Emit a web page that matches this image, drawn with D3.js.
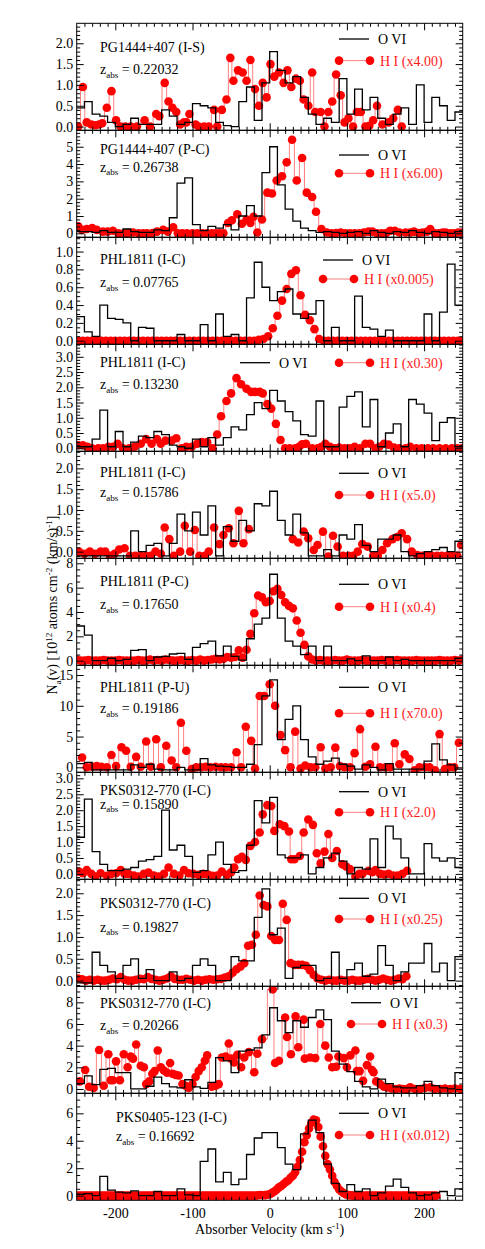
<!DOCTYPE html>
<html lang="en">
<head>
<meta charset="utf-8">
<title>O VI / H I apparent column density profiles</title>
<script src="https://d3js.org/d3.v7.min.js"></script>
<style>
  body { margin: 0; background: #fff; }
  svg text { font-family: "Liberation Serif", "DejaVu Serif", serif; fill: #000; }
  .tick text { font-size: 14px; }
  .tick line { stroke: #000; stroke-width: 1; }
  .frame { fill: none; stroke: #000; stroke-width: 1; }
  .ovi-line { fill: none; stroke: #000; stroke-width: 1.3; }
  .hi-line { fill: none; stroke: #ff7f7f; stroke-width: 1; }
  .hi-dot { fill: #ff0000; }
  .panel-label { font-size: 14px; }
  .legend-text { font-size: 14px; }
  text.legend-hi { fill: #ff1a1a; }
  .axis-title { font-size: 14px; }
</style>
</head>
<body>
<script>
// ---------- data ----------
const panelNames = ["PG1444+407 (I-S)", "PG1444+407 (P-C)", "PHL1811 (I-C)", "PHL1811 (I-C)",
  "PHL1811 (I-C)", "PHL1811 (P-C)", "PHL1811 (P-U)", "PKS0312-770 (I-C)", "PKS0312-770 (I-C)",
  "PKS0312-770 (I-C)", "PKS0405-123 (I-C)"];
const panelZ = ["0.22032", "0.26738", "0.07765", "0.13230", "0.15786", "0.17650", "0.19186",
  "0.15890", "0.19827", "0.20266", "0.16692"];
const hiScale = ["x4.00", "x6.00", "x0.005", "x0.30", "x5.0", "x0.4", "x70.0", "x2.0", "x0.25", "x0.3", "x0.012"];

// y ranges and ticks of each panel
const yMin = [-0.09, -0.23, -0.04, -0.1, -0.16, -0.38, -0.81, -0.17, -0.13, -0.4, -0.34];
const yMax = [2.48, 5.95, 1.16, 3.41, 2.41, 8.41, 16.58, 3.19, 2.32, 9.48, 7.46];
const yTicks = [
  [0, 0.5, 1, 1.5, 2], [0, 1, 2, 3, 4, 5], [0, 0.2, 0.4, 0.6, 0.8, 1.0], [0, 0.5, 1, 1.5, 2, 2.5, 3],
  [0, 0.5, 1, 1.5, 2], [0, 2, 4, 6, 8], [0, 5, 10, 15], [0, 0.5, 1, 1.5, 2, 2.5, 3],
  [0, 0.5, 1, 1.5, 2], [0, 2, 4, 6, 8], [0, 2, 4, 6]];
const yMinorStep = [0.1, 0.2, 0.05, 0.1, 0.1, 0.5, 1, 0.1, 0.1, 0.5, 0.5];
const yDigits = [1, 0, 1, 1, 1, 0, 0, 1, 1, 0, 0];
const xMajor = [-200, -100, 0, 100, 200];

// O VI histograms, 10 km/s bins starting at -250 km/s
const oviStart = -250, oviBin = 10;
const ovi1 = [0.45, 0.6, 0.3, 0.25, 0.1, 0, 0.05, 0.2, 0.05, 0.05,
  0.05, 0.4, 0.25, 0.05, 0.1, 0.55, 0.5, 0.45, 0.1, 0.02,
  0, 0.6, 0.95, 0.15, 1.05, 1.8, 1.35, 1.05, 1.2, 0.7,
  0.3, 0.05, 0.2, 0.1, 1.15, 0.3, 0.9, 0.4, 0.7, 0.2,
  0.05, 0.3, 0.45, 0.05, 1.0, 0.1, 0.7, 0.5, 0.15, 0.35];
const ovi2 = [0.1, 0.1, 0.05, 0.15, 0.05, 0.05, 0.25, 0.1, 0.05, 0.05,
  0.2, 0.15, 0.9, 2.9, 3.2, 0.5, 0.15, 0.4, 0.3, 0.5,
  0.2, 1.0, 1.6, 1.0, 3.5, 5.0, 2.8, 1.4, 0.7, 0.3,
  0.15, 0.05, 0.1, 0.05, 0, 0.05, 0.1, 0, 0.15, 0.05,
  0, 0.1, 0.05, 0.15, 0.05, 0, 0.1, 0.05, 0, 0.1];
const ovi3 = [0.27, 0.1, 0.05, 0.4, 0.25, 0.24, 0.2, 0, 0.15, 0.14,
  0, 0, 0, 0.07, 0, 0, 0.18, 0, 0.3, 0.05,
  0.07, 0, 0.48, 0.88, 0.6, 0.45, 0.55, 0.58, 0.3, 0.25,
  0.3, 0.45, 0, 0.15, 0, 0, 0.5, 0.15, 0.13, 0.05,
  0.12, 0, 0, 0, 0, 0.3, 0, 0.32, 0.86, 0.4];
const ovi4 = [0.05, 0.05, 0.3, 1.25, 0.05, 0.55, 0.05, 0.2, 0.4, 0.35,
  0.55, 0.45, 0.1, 0.05, 0, 0.3, 0.05, 0.35, 0.1, 0.35,
  0.7, 0.6, 1.1, 1.5, 1.3, 1.9, 1.55, 1.2, 0.9, 0.45,
  0.4, 1.55, 0.05, 0.05, 1.35, 1.7, 1.85, 0.7, 1.6, 0.05,
  0.5, 0.8, 0.05, 1.6, 1.45, 1.15, 0.25, 0.85, 1.0, 0.05];
const ovi5 = [-0.1, -0.1, -0.1, -0.1, -0.1, -0.1, -0.1, 0.5, 0, 0.15,
  0.2, -0.1, 0.2, 0.9, 0.5, 0.95, 0.4, 1.1, -0.1, 0.6,
  0.25, 0.75, 0.5, 1.15, 1.1, 1.45, 0.75, 0.4, 0.9, 0.45,
  -0.1, -0.1, 0.05, -0.1, 0.4, 0.3, 0.65, 0.15, 0, 0.3,
  0.3, 0.4, 0, -0.1, -0.05, 0, 0.05, 0.1, 0, 0.25];
const ovi6 = [2.85, 2.1, 0, 0, 0.2, 0, 0.1, 0.85, 0.9, 0,
  0.3, 0.35, 0.55, 0.6, 0.1, 1.1, 1.4, 1.6, 0.4, 1.2,
  0.35, 0.05, 1.8, 3.0, 3.5, 7.1, 3.5, 1.6, 1.2, 0.5,
  1.2, 0, 1.2, 0, 0, 0.15, 0, 0.4, 0, 0,
  0.3, 0, 0.1, 0, 0, 0, 0, 0, 0, 0.2];
const ovi7 = [0.6, 0.8, -0.4, -0.4, -0.4, -0.4, -0.4, 0.4, 0, 0.5,
  -0.3, -0.4, -0.4, 0, -0.4, -0.4, 1.4, 0.4, 0.2, 0.1,
  0, 0, 0.5, 3.7, 11.6, 14.2, 4.5, 7.8, 10.0, 4.5,
  1.7, 0.5, 1.0, 1.5, 0.5, 0.2, -0.3, 0.4, 0, -0.4,
  0.6, -0.3, -0.3, -0.3, -0.3, 1.0, 3.8, 1.2, 0.4, -0.3];
const ovi8 = [1.15, 2.35, 0.7, 0.3, 0.1, 0.1, 0.15, 0.2, 0.4, 0.45,
  0.55, 2.0, 0.75, 0.9, 0.55, 0.05, 0.1, 0.6, 1.0, 0.3,
  0.05, 0.1, 0.9, 2.3, 1.6, 2.4, 0.6, 0.5, 0.5, 0.6,
  0, 0.2, 0.5, 0.65, 0.4, 0, 0.2, 0.15, 1.1, 0.2,
  1.5, 1.1, 0.5, 0, 0, 0.95, 0.5, 0.4, 0.5, 0.2];
const ovi9 = [-0.05, -0.05, 0.65, 0.35, 0.2, 0.05, 0.35, 0.5, 0.05, 0.25,
  0, 0, 0.2, 0, 0.05, 0.35, 0.5, 0.35, 0, 0,
  0.55, 0.45, 0.45, 1.45, 2.1, 1.05, 1.2, 0.05, 0.3, 0.35,
  0.35, 0, 0.05, 0.65, 0.05, 0.25, 0.4, 0.1, 0.15, 0.8,
  0.35, 0, 0.2, 0.4, 0.4, 0.85, 0.2, 0.4, 0, 0.55];
const ovi10 = [0.5, 1.2, 0.4, 1.8, 1.9, 1.5, 1.5, 0, 0, 0.25,
  1.1, 0.5, 0.2, 0.1, 0.85, 0.2, 0.05, 0.6, 2.9, 2.6,
  1.5, 3.5, 3.6, 3.8, 5.0, 7.5, 6.3, 5.2, 6.3, 5.7,
  6.6, 7.3, 6.4, 3.5, 2.3, 1.6, 0.7, 0.2, 0, 0.9,
  0.5, 0.2, 0.1, 0.1, 0.3, 0.7, 0.3, 0.1, 0, 1.5];
const ovi11 = [0.1, 0.15, 0, 1.4, 0.4, 0.25, 0.2, 0.35, 0, 0,
  0.3, 0, 0, 0.5, 0.05, 0, 2.5, 3.4, 1.0, 1.7,
  0.8, 1.2, 3.0, 4.2, 4.6, 4.6, 3.5, 2.3, 1.9, 4.5,
  5.5, 4.6, 2.3, 0.9, 0.3, 0.8, 0.3, 0.5, 0, 0.2,
  0.7, 1.2, 0.6, 0.2, 0, 0.05, 0.2, 0.3, 0, 0.5];

// H I profiles as [velocity, N] pairs
const hi1 = [[-248, 0], [-242, 0.95], [-237, 0.1], [-231, 0.05], [-226, 0.03], [-221, 0.05], [-217, 0.08],
  [-211, 0.45], [-205, 0.85], [-199, 0.15], [-193, 0], [-187, 0], [-180, 0], [-172, 0], [-162, 0.15],
  [-155, 0], [-147, 0.3], [-143, 0.25], [-136, 1.05], [-131, 0.6], [-126, 0.45], [-121, 0.35],
  [-116, 0.05], [-111, 0.1], [-108, 0.1], [-104, 0.3], [-96, 0.05], [-92, 0], [-85, 0], [-79, 0],
  [-72, 0.4], [-68, 0], [-62, 0.4], [-56, 0.65], [-51, 1.65], [-47, 1.1], [-41, 1.35], [-35, 1.3],
  [-30, 1.1], [-25, 1.6], [-19, 0.9], [-14, 0.5], [-9, 1.05], [-4, 0.7], [1, 1.5], [6, 1.2], [12, 1.3],
  [18, 1.05], [23, 1.35], [28, 0.95], [34, 1.15], [39, 1.1], [44, 0.65], [50, 0.5], [55, 1.3],
  [59, 0.35], [66, 0.35], [71, 0], [76, 0.35], [81, 0.6], [86, 1.25], [92, 0.75], [97, 0.1],
  [102, 0.2], [108, 0], [113, 0.35], [118, 0.35], [124, 0], [129, 0.02], [134, 0.15], [139, 0.5],
  [146, 0.05], [154, 0.1], [160, 0.2], [166, 0.4], [171, 0]];
const hi2 = [[-248, 0.4], [-243, 0.2], [-237, 0.25], [-230, 0.3], [-224, 0.2], [-216, 0.1], [-210, 0.1],
  [-203, 0.15], [-196, 0], [-189, 0], [-183, 0.02], [-177, 0.05], [-170, 0], [-164, 0], [-159, 0],
  [-152, 0.02], [-146, 0.1], [-138, 0.2], [-132, 0.1], [-125, 0.35], [-119, 0], [-113, 0], [-107, 0],
  [-100, 0], [-94, 0], [-87, 0], [-81, 0], [-75, 0], [-70, 0], [-65, 0], [-60, 0], [-54, 0.6],
  [-49, 0.75], [-42, 1.1], [-36, 0.55], [-30, 0.8], [-25, 0.6], [-21, 0.95], [-16, 0.05], [-10, 0.8],
  [-3, 2.35], [3, 2.3], [9, 3.05], [16, 3.3], [22, 4.1], [29, 5.4], [35, 3.05], [42, 4.35], [48, 2.35],
  [55, 2.1], [60, 1.25], [67, 0.25], [74, 0.05], [80, 0], [86, 0.02], [92, 0.05], [98, 0], [104, 0],
  [110, 0], [116, 0], [122, 0.05], [128, 0.1], [133, 0.1], [139, 0], [145, 0], [151, 0.02], [156, 0.15],
  [162, 0.15], [168, 0.05], [176, 0.05], [182, 0.05], [187, 0.1], [193, 0.02], [198, 0.05], [204, 0.1],
  [208, 0.25], [214, 0], [219, 0], [224, 0.05], [228, 0.05], [234, 0], [239, 0], [244, 0.05], [249, 0.05]];
const hi4 = [[-248, 0.1], [-242, 0.1], [-236, 0.05], [-230, 0], [-222, 0], [-216, 0], [-209, 0.05],
  [-203, 0.05], [-197, 0.15], [-190, 0], [-182, 0], [-175, 0.05], [-167, 0.15], [-160, 0.3], [-153, 0.15],
  [-146, 0.3], [-141, 0.15], [-135, 0.25], [-127, 0.25], [-121, 0.33], [-114, 0], [-108, 0.05],
  [-101, 0.05], [-94, 0.15], [-88, 0.2], [-81, 0.2], [-74, 0], [-68, 0.45], [-63, 1.05], [-56, 1.55],
  [-50, 1.8], [-43, 2.3], [-37, 2.1], [-30, 1.95], [-24, 1.85], [-19, 1.85], [-13, 1.85], [-9, 1.8],
  [-3, 1.45], [2, 1.3], [8, 0.8], [14, 0.27], [20, 0], [26, 0], [33, 0], [38, 0.05], [42, 0.13],
  [47, 0.15], [55, 0], [62, 0], [67, 0.05], [72, 0.15], [78, 0.05], [84, 0], [90, 0.02], [97, 0],
  [103, 0], [110, 0.05], [117, 0], [124, 0.15], [130, 0.15], [137, 0], [142, 0.05], [148, 0.15],
  [154, 0.12], [161, 0.02], [168, 0], [176, 0], [182, 0.05], [190, 0], [197, 0], [205, 0], [212, 0],
  [220, 0], [228, 0], [236, 0], [243, 0], [249, 0]];
const hi5 = [[-247, 0], [-240, -0.05], [-233, 0], [-226, -0.05], [-219, 0], [-213, 0], [-207, -0.1],
  [-201, -0.05], [-195, 0.05], [-188, 0.08], [-181, -0.1], [-174, -0.1], [-167, -0.1], [-160, -0.1],
  [-154, -0.1], [-148, 0], [-141, -0.05], [-136, 0.58], [-130, 0.3], [-124, -0.1], [-116, 0],
  [-110, 0.62], [-103, 0], [-97, 0.52], [-91, -0.1], [-84, -0.1], [-79, 0], [-72, 0.58], [-65, 0.18],
  [-60, 0.4], [-53, 0.56], [-47, 0.2], [-40, 0.98], [-34, 0.2], [-27, 0.54], [30, 0.3], [37, 0.22],
  [44, 0.48], [50, 0.32], [57, 0.04], [62, 0.16], [69, 0.48], [76, -0.12], [82, 0.38], [88, 0.12],
  [95, -0.1], [102, -0.1], [108, -0.1], [114, 0], [120, 0.18], [127, 0.12], [134, -0.1], [140, -0.1],
  [146, 0.04], [152, 0.2], [159, 0.3], [165, 0.35], [171, 0.44], [178, 0.3], [184, 0], [191, -0.08],
  [197, -0.1], [204, -0.1], [210, -0.1], [217, -0.1], [223, -0.1], [230, -0.1], [236, -0.1],
  [243, -0.1], [248, 0.16]];
const hi7 = [[-243, 1.6], [-237, 0], [-230, 0.1], [-224, 0.2], [-218, 0.1], [-211, 0], [-205, 2.0],
  [-199, 0.2], [-192, 3.25], [-186, 2.7], [-180, 0.1], [-173, 1.7], [-167, 0.1], [-160, 4.2],
  [-154, 0.1], [-147, 4.55], [-141, 0], [-134, 3.5], [-127, 1.1], [-121, 0], [-115, 7.25], [-108, 2.7],
  [-101, -0.3], [-95, 0], [-89, 0], [-83, 0.1], [-77, 0], [-70, 0.1], [-63, 0], [-57, 0], [-50, 0],
  [-43, 2.45], [-37, 0], [-31, 6.6], [-24, 4.3], [-19, -0.2], [-13, 11.6], [-7, 11.6], [0, 13.5],
  [7, 10.0], [14, 5.25], [20, 2.8], [27, 0], [33, 5.8], [40, -0.2], [46, 0.3], [53, 0], [59, 0],
  [66, 3.25], [72, -0.2], [79, 0], [85, 3.2], [91, 0.2], [97, 0], [104, 0], [110, 2.3], [117, 6.2],
  [124, 0.1], [130, 0.5], [137, 3.35], [143, 0], [150, 0], [156, 0], [162, 3.9], [168, 0.5],
  [175, 2.1], [181, 1.35], [188, -0.5], [194, 0], [201, 0], [207, 0], [214, -0.5], [220, 5.4],
  [227, -0.3], [233, 0], [239, 0], [245, 4.0]];
const hi8 = [[-247, 0.07], [-242, 0.02], [-237, 0.12], [-231, 0], [-226, -0.08], [-219, 0.02],
  [-211, -0.06], [-205, 0], [-199, 0.02], [-193, 0.12], [-188, 0], [-183, 0], [-176, -0.05],
  [-170, -0.08], [-163, 0], [-157, 0.04], [-150, -0.05], [-144, -0.08], [-137, 0], [-131, 0.2],
  [-124, 0], [-117, -0.05], [-111, 0.12], [-105, 0.02], [-99, 0], [-92, -0.03], [-86, 0], [-80, -0.02],
  [-74, -0.06], [-68, -0.05], [-62, 0.07], [-55, -0.03], [-50, 0.05], [-46, 0.2], [-41, 0.46],
  [-36, 0.54], [-31, 0.44], [-25, 0.88], [-19, 1.0], [-13, 1.3], [-9, 1.87], [-3, 2.16], [2, 2.13],
  [6, 1.35], [13, 1.56], [19, 1.5], [25, 1.33], [28, 0.46], [32, 0.46], [39, 0.56], [44, 1.3],
  [50, 1.71], [56, 1.54], [61, 0.65], [66, 0.33], [71, 0.7], [76, 1.25], [81, 0.5], [87, 0.72],
  [94, 0.3], [99, 0.23], [104, 0.15], [111, -0.08], [116, 0], [120, 0], [128, 0.1], [133, 0.05],
  [137, 0.12], [143, 0], [148, -0.02], [154, 0], [160, -0.05], [166, -0.05], [172, 0], [178, 0.1]];
const hi10 = [[-246, 0.7], [-239, 1.75], [-234, 0.2], [-228, 0.1], [-221, 3.6], [-215, 0.3], [-209, 3.2],
  [-206, 0.8], [-203, 0.8], [-199, 2.55], [-194, 0.8], [-189, 3.2], [-184, 2.0], [-180, 3.0],
  [-177, 2.8], [-173, 4.1], [-167, 2.15], [-163, 2.0], [-160, 0.45], [-156, 0.7], [-152, 1.4],
  [-149, 1.65], [-145, 3.55], [-141, 2.0], [-137, 1.7], [-133, 1.5], [-129, 2.4], [-126, 1.4],
  [-122, 1.3], [-118, 1.25], [-113, 0.45], [-109, 0.3], [-105, 0.1], [-100, 0.45], [-96, 1.1],
  [-92, 1.65], [-88, 2.0], [-84, 2.6], [-81, 3.1], [-75, 0.2], [-70, 0.3], [-66, 0.45], [-62, 2.9],
  [-57, 3.0], [-53, 4.2], [-50, 2.8], [-46, 2.45], [-42, 3.15], [-37, 2.0], [-33, 2.9], [-27, 3.4],
  [-20, 1.55], [-16, 3.25], [-10, 4.6], [4, 9.2], [7, 2.4], [12, 2.6], [20, 6.6], [22.5, 4.8],
  [27.5, 3.2], [33.5, 6.7], [37, 3.85], [44, 6.4], [45.5, 2.8], [52.5, 2.9], [59, 2.85], [65.5, 6.0],
  [72, 4.0], [76.5, 2.9], [81, 2.0], [86, 2.05], [89, 3.0], [96, 2.85], [100, 2.0], [104.5, 3.1],
  [111, 3.55], [113, 1.65], [116.5, 1.65], [121, 0.75], [126, 2.2], [130, 3.0], [132.5, 1.75],
  [134.5, 1.55], [138, 0.7], [143, 0.45], [148, 0.2], [152, 0.15], [158, 0.05], [163, 0], [168, 0.05],
  [173, 0], [178, 0], [182, 0.15], [188, 0], [195, 0], [201, 0.1], [208, 0.15], [214, 0], [221, 0],
  [227, 0.05], [234, 0], [240, 0.05], [247, 0]];

// densely sampled H I profiles on a regular velocity grid
const hi3Start = -248, hi3Step = 6;
const hi3 = [0, 0, 0, 0, 0, 0, 0, 0, 0, 0,
  0, 0, 0, 0, 0, 0, 0, 0, 0, 0,
  0, 0, 0, 0, 0, 0, 0, 0, 0, 0,
  0, 0, 0, 0, 0, 0, 0, 0, 0,
  0.01, 0.02, 0.05, 0.14, 0.28, 0.45, 0.58, 0.75, 0.79, 0.51, 0.29, 0.23, 0.13, 0.02,
  0, 0, 0, 0, 0, 0, 0, 0, 0, 0,
  0, 0, 0, 0, 0, 0, 0, 0, 0, 0,
  0, 0, 0, 0, 0, 0, 0, 0, 0, 0, 0];
const hi6Start = -250, hi6Step = 5;
const hi6 = [0.1, 0, 0, 0.05, 0, 0, 0, 0.05, 0, 0,
  0, 0.05, 0, 0, 0, 0, 0.05, 0, 0, 0.1,
  0, 0.05, 0, 0.1, 0.05, 0, 0, 0.05, 0, 0,
  0.05, 0, 0.1, 0, 0.05, 0.1, 0.15, 0.1,
  0.15, 0.3, 0.25, 0.3, 0.85, 0.25, 0.9, 2.2, 3.9, 5.35,
  5.2, 4.8, 4.9, 5.7, 5.9, 5.4, 4.8, 4.5, 4.3, 3.3,
  2.3, 1.3, 0.35, 0.1, 0,
  0.05, 0, 0, 0, 0.05, 0, 0, 0.1, 0, 0,
  0, 0.05, 0, 0, 0, 0, 0.05, 0, 0, 0,
  0.05, 0, 0, 0, 0, 0.05, 0, 0, 0, 0,
  0, 0.05, 0, 0, 0, 0.05, 0, 0.1];
const hi9Start = -248, hi9Step = 5;
const hi9 = [0.05, 0.03, 0, 0.02, 0, 0.02, 0, 0, 0.02, 0.05,
  0.03, 0.08, 0.02, 0, 0, 0.02, 0.04, 0.03, 0.08, 0.04,
  0.02, 0, 0.02, 0.05, 0.1, 0.04, 0.02, 0.02, 0.04, 0.02,
  0, 0.02, 0, 0.02, 0.03, 0.02, 0.03, 0.04, 0.07, 0.1,
  0.18, 0.26, 0.32, 0.4, 0.8, 0.82, 1.05, 1.95, 1.73, 1.7,
  1.02, 0.93, 0.93, 1.76, 1.39, 0.4, 0.36, 0.36, 0.36, 0.34,
  0.24, 0.13, 0.05, 0.02, 0, 0.02, 0, 0, 0.02, 0,
  0, 0.02, 0, 0, 0.02, 0.04, 0.02, 0, 0.02, 0.05,
  0.02, 0, 0.02, 0.05, 0.03, 0.1];
const hi11Start = -249, hi11Step = 3;
const hi11 = [0, 0, 0, 0, 0, 0, 0, 0, 0, 0,
  0, 0, 0, 0, 0, 0, 0, 0, 0, 0,
  0, 0, 0, 0, 0, 0, 0, 0, 0, 0,
  0, 0, 0, 0, 0, 0, 0, 0, 0, 0,
  0, 0, 0, 0, 0, 0, 0, 0, 0, 0,
  0, 0, 0, 0, 0, 0, 0, 0, 0, 0,
  0, 0, 0, 0, 0, 0, 0, 0, 0, 0,
  0, 0, 0, 0, 0, 0, 0, 0,
  0.03, 0.05, 0.03, 0.04, 0.06, 0.1, 0.2, 0.3, 0.45, 0.6,
  0.7, 0.85, 1.0, 1.1, 1.3, 1.45, 1.7, 2.1, 2.6, 3.2,
  3.9, 4.4, 4.9, 5.3, 5.55, 5.5, 5.0, 4.3, 3.6, 2.9,
  2.3, 1.9, 1.45, 1.0, 0.7, 0.45, 0.3, 0.17, 0.08, 0.04,
  0.02,
  0, 0, 0, 0, 0, 0, 0, 0, 0, 0,
  0, 0, 0, 0, 0, 0, 0, 0, 0, 0,
  0, 0, 0, 0, 0, 0, 0, 0, 0, 0,
  0, 0, 0, 0, 0, 0, 0];

// ---------- layout ----------
const width = 485, height = 1249;
const plotLeft = 76.7, plotRight = 462.7, plotTop = 23.3, panelH = 107;
const maxGap = 25; // km/s, H I line is broken over larger gaps
// legend anchors: O VI line start x / y offset, H I first dot x / y offset
const legendLayout = [
  { ox: 339, oy: 15.7, hx: 339, hy: 37.3 },
  { ox: 339, oy: 24.7, hx: 339, hy: 43 },
  { ox: 323, oy: 22.7, hx: 323, hy: 41.7 },
  { ox: 240, oy: 18.4, hx: 339, hy: 18.4 },
  { ox: 339, oy: 22, hx: 339, hy: 43.7 },
  { ox: 339, oy: 26, hx: 339, hy: 48.4 },
  { ox: 339, oy: 22, hx: 339, hy: 48 },
  { ox: 339, oy: 19.4, hx: 339, hy: 40 },
  { ox: 339, oy: 19, hx: 339, hy: 39.7 },
  { ox: 351, oy: 16.4, hx: 351, hy: 37.7 },
  { ox: 339, oy: 20, hx: 339, hy: 41.7 }];
const labelLayout = [
  { x: 100, ny: 29, zy: 50.7 }, { x: 100, ny: 23.7, zy: 41.4 }, { x: 100, ny: 26.7, zy: 50 },
  { x: 100, ny: 22.4, zy: 45 }, { x: 100, ny: 25.4, zy: 46 }, { x: 100, ny: 27.7, zy: 51 },
  { x: 100, ny: 27, zy: 48 }, { x: 100, ny: 22.4, zy: 36.2 }, { x: 100, ny: 29, zy: 52.4 },
  { x: 100, ny: 21.4, zy: 43.7 }, { x: 116, ny: 28.4, zy: 47.7 }];

function gridToPairs(values, start, step) {
  return values.map((v, k) => [start + k * step, v]);
}
// insert a break where consecutive samples are far apart
function withBreaks(pairs) {
  const out = [];
  pairs.forEach((p, k) => {
    if (k > 0 && p[0] - pairs[k - 1][0] > maxGap) out.push(null);
    out.push(p);
  });
  return out;
}
const oviSeries = [ovi1, ovi2, ovi3, ovi4, ovi5, ovi6, ovi7, ovi8, ovi9, ovi10, ovi11];
const hiSeries = [hi1, hi2, gridToPairs(hi3, hi3Start, hi3Step), hi4, hi5,
  gridToPairs(hi6, hi6Start, hi6Step), hi7, hi8, gridToPairs(hi9, hi9Start, hi9Step), hi10,
  gridToPairs(hi11, hi11Start, hi11Step)];

// ---------- drawing ----------
const svg = d3.select("body").append("svg").attr("width", width).attr("height", height);
const x = d3.scaleLinear().domain([-250, 250]).range([plotLeft, plotRight]);
const xMinor = d3.range(-240, 250, 10).filter(v => v % 100 !== 0);
const defs = svg.append("defs");
const lastPanel = panelNames.length - 1;

function stripDomain(g) { g.select(".domain").remove(); }

panelNames.forEach((name, i) => {
  const top = plotTop + i * panelH, bottom = top + panelH;
  const y = d3.scaleLinear().domain([yMin[i], yMax[i]]).range([bottom, top]);
  const g = svg.append("g").attr("class", "panel");

  defs.append("clipPath").attr("id", "clip" + i).append("rect")
    .attr("x", plotLeft).attr("y", top).attr("width", plotRight - plotLeft).attr("height", panelH);
  const plot = g.append("g").attr("clip-path", `url(#clip${i})`);

  // H I: step line plus dots
  const hi = hiSeries[i].slice().sort((a, b) => a[0] - b[0]);
  plot.append("path").datum(withBreaks(hi)).attr("class", "hi-line")
    .attr("d", d3.line().defined(d => d !== null).x(d => x(d[0])).y(d => y(d[1])).curve(d3.curveStep));
  plot.selectAll("circle").data(hi).join("circle").attr("class", "hi-dot")
    .attr("cx", d => x(d[0])).attr("cy", d => y(d[1])).attr("r", 4.3);

  // O VI histogram
  const ovi = oviSeries[i].map((v, k) => [oviStart + k * oviBin, v]);
  ovi.push([oviStart + ovi.length * oviBin, ovi[ovi.length - 1][1]]);
  plot.append("path").datum(ovi).attr("class", "ovi-line")
    .attr("d", d3.line().x(d => x(d[0])).y(d => y(d[1])).curve(d3.curveStepAfter));

  // axes: ticks inside on all four sides
  const major = yTicks[i];
  const mstep = yMinorStep[i];
  const minor = d3.range(Math.ceil(yMin[i] / mstep) * mstep, yMax[i], mstep)
    .filter(v => major.every(m => Math.abs(m - v) > mstep / 10));
  const fmt = d3.format("." + yDigits[i] + "f");

  g.append("g").attr("transform", `translate(${plotLeft},0)`)
    .call(d3.axisLeft(y).tickValues(major).tickSize(-7).tickPadding(3.5).tickFormat(fmt)).call(stripDomain);
  g.append("g").attr("transform", `translate(${plotLeft},0)`)
    .call(d3.axisLeft(y).tickValues(minor).tickSize(-3.5).tickFormat("")).call(stripDomain);
  g.append("g").attr("transform", `translate(${plotRight},0)`)
    .call(d3.axisRight(y).tickValues(major).tickSize(-7).tickFormat("")).call(stripDomain);
  g.append("g").attr("transform", `translate(${plotRight},0)`)
    .call(d3.axisRight(y).tickValues(minor).tickSize(-3.5).tickFormat("")).call(stripDomain);
  g.append("g").attr("transform", `translate(0,${top})`)
    .call(d3.axisTop(x).tickValues(xMajor).tickSize(-7).tickFormat("")).call(stripDomain);
  g.append("g").attr("transform", `translate(0,${top})`)
    .call(d3.axisTop(x).tickValues(xMinor).tickSize(-3.5).tickFormat("")).call(stripDomain);
  g.append("g").attr("transform", `translate(0,${bottom})`)
    .call(d3.axisBottom(x).tickValues(xMajor).tickSize(-7).tickPadding(8)
      .tickFormat(i === lastPanel ? d => String(d) : "")).call(stripDomain);
  g.append("g").attr("transform", `translate(0,${bottom})`)
    .call(d3.axisBottom(x).tickValues(xMinor).tickSize(-3.5).tickFormat("")).call(stripDomain);

  g.append("rect").attr("class", "frame")
    .attr("x", plotLeft).attr("y", top).attr("width", plotRight - plotLeft).attr("height", panelH);

  // sightline label and redshift
  const lab = labelLayout[i];
  g.append("text").attr("class", "panel-label").attr("x", lab.x).attr("y", top + lab.ny).text(name);
  const zt = g.append("text").attr("class", "panel-label").attr("x", lab.x).attr("y", top + lab.zy);
  zt.append("tspan").text("z");
  zt.append("tspan").attr("dy", 3.5).style("font-size", "9px").text("abs");
  zt.append("tspan").attr("dy", -3.5).text(" = " + panelZ[i]);

  // legend
  const lg = legendLayout[i];
  g.append("line").attr("x1", lg.ox).attr("x2", lg.ox + 30)
    .attr("y1", top + lg.oy).attr("y2", top + lg.oy).attr("stroke", "#000").attr("stroke-width", 1.3);
  g.append("text").attr("class", "legend-text").attr("x", lg.ox + 39).attr("y", top + lg.oy)
    .attr("dy", "0.35em").text("O VI");
  g.append("line").attr("class", "hi-line").attr("x1", lg.hx).attr("x2", lg.hx + 31)
    .attr("y1", top + lg.hy).attr("y2", top + lg.hy);
  g.selectAll("circle.legend-dot").data([lg.hx, lg.hx + 31]).join("circle")
    .attr("class", "hi-dot legend-dot").attr("cx", d => d).attr("cy", top + lg.hy).attr("r", 4.3);
  g.append("text").attr("class", "legend-text legend-hi").attr("x", lg.hx + 41).attr("y", top + lg.hy)
    .attr("dy", "0.35em").text("H I (" + hiScale[i] + ")");
});

// axis titles
const xt = svg.append("text").attr("class", "axis-title").attr("text-anchor", "middle")
  .attr("x", (plotLeft + plotRight) / 2).attr("y", 1234);
xt.append("tspan").text("Absorber Velocity (km s");
xt.append("tspan").attr("dy", -5).style("font-size", "9px").text("-1");
xt.append("tspan").attr("dy", 5).text(")");

const yt = svg.append("text").attr("class", "axis-title").attr("text-anchor", "middle")
  .attr("transform", "translate(57,605) rotate(-90)");
yt.append("tspan").text("N");
yt.append("tspan").attr("dy", 3.5).style("font-size", "9px").text("a");
yt.append("tspan").attr("dy", -3.5).text("(v) [10");
yt.append("tspan").attr("dy", -5).style("font-size", "9px").text("12");
yt.append("tspan").attr("dy", 5).text(" atoms cm");
yt.append("tspan").attr("dy", -5).style("font-size", "9px").text("-2");
yt.append("tspan").attr("dy", 5).text(" (km/s)");
yt.append("tspan").attr("dy", -5).style("font-size", "9px").text("-1");
yt.append("tspan").attr("dy", 5).text("]");
</script>
</body>
</html>
